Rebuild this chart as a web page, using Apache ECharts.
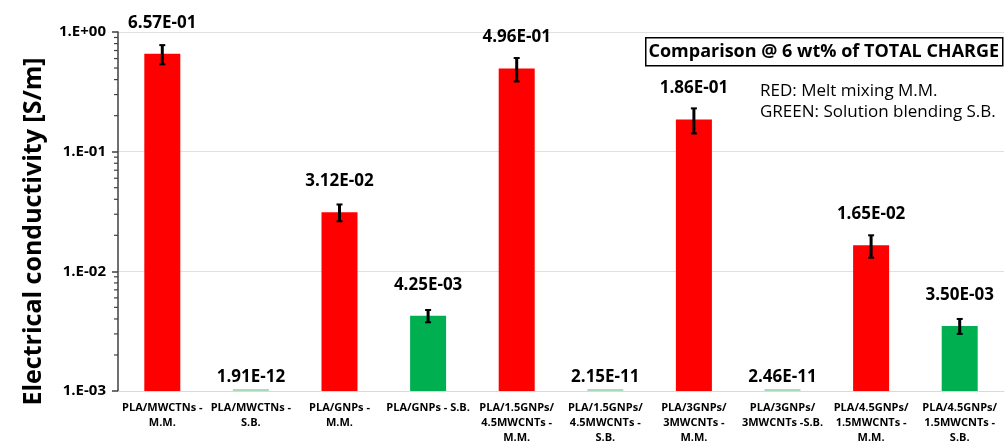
<!DOCTYPE html>
<html>
<head>
<meta charset="utf-8">
<script src="https://cdn.jsdelivr.net/npm/echarts@6/dist/echarts.min.js"></script>
<style>
  html, body { margin: 0; padding: 0; background: #fff; }
  #chart { width: 1005px; height: 445px; }
</style>
</head>
<body>
<div id="chart"></div>
<script>
// Sample names (multi-line axis labels)
const categories = [
  'PLA/MWCTNs -\nM.M.',
  'PLA/MWCTNs -\nS.B.',
  'PLA/GNPs -\nM.M.',
  'PLA/GNPs - S.B.',
  'PLA/1.5GNPs/\n4.5MWCNTs -\nM.M.',
  'PLA/1.5GNPs/\n4.5MWCNTs -\nS.B.',
  'PLA/3GNPs/\n3MWCNTs -\nM.M.',
  'PLA/3GNPs/\n3MWCNTs -S.B.',
  'PLA/4.5GNPs/\n1.5MWCNTs -\nM.M.',
  'PLA/4.5GNPs/\n1.5MWCNTs -\nS.B.'
];
// Electrical conductivity [S/m]
const conductivity = [6.57e-1, 1.91e-12, 3.12e-2, 4.25e-3, 4.96e-1, 2.15e-11, 1.86e-1, 2.46e-11, 1.65e-2, 3.50e-3];
// Standard deviation of each measurement
const errors = [0.12, 0, 0.005, 0.0005, 0.11, 0, 0.044, 0, 0.0035, 0.0005];
// Processing route: M = melt mixing, S = solution blending
const method = ['M', 'S', 'M', 'S', 'M', 'S', 'M', 'S', 'M', 'S'];
const yTickValues = [1e-3, 1e-2, 1e-1, 1e0];
const yTickLabels = ['1.E-03', '1.E-02', '1.E-01', '1.E+00'];

const RED = '#ff0000';
const GREEN = '#00b050';
const PALE_GREEN = '#a8dcb9';
const Y_MIN = 1e-3, Y_MAX = 1;
const BAR_W = 36;

function sci(v) {
  const e = Math.floor(Math.log10(v) + 1e-9);
  const m = v / Math.pow(10, e);
  const ae = Math.abs(e);
  return m.toFixed(2) + 'E' + (e < 0 ? '-' : '+') + (ae < 10 ? '0' + ae : '' + ae);
}

const chart = echarts.init(document.getElementById('chart'));

// [category index, value, error, method flag]
const barData = conductivity.map((v, i) => [i, v, errors[i], method[i] === 'M' ? 1 : 0]);

// minor log ticks along the y axis (2..9 within each decade)
const minorTicks = [];
for (let d = -3; d < 0; d++) {
  for (let k = 2; k <= 9; k++) minorTicks.push([0, k * Math.pow(10, d)]);
}

const labelStyle = {
  fill: '#000', align: 'center', verticalAlign: 'middle',
  fontFamily: 'Open Sans', fontWeight: 'bold', fontSize: 17
};

const option = {
  animation: false,
  grid: { left: 118, right: 1, top: 32, bottom: 52, containLabel: false },
  xAxis: {
    type: 'category',
    data: categories,
    axisLine: { show: true, lineStyle: { color: '#d9d9d9', width: 1 } },
    axisTick: { show: false },
    axisLabel: {
      interval: 0,
      color: '#000',
      fontFamily: 'Open Sans',
      fontWeight: 'bold',
      fontSize: 11,
      lineHeight: 15,
      margin: 9,
      verticalAlign: 'top'
    }
  },
  yAxis: {
    type: 'log',
    logBase: 10,
    min: Y_MIN,
    max: Y_MAX,
    name: 'Electrical conductivity [S/m]',
    nameLocation: 'middle',
    nameGap: 72,
    nameTextStyle: {
      fontFamily: 'Open Sans',
      fontWeight: 'bold',
      fontSize: 25,
      color: '#000',
      padding: [0, 40, 0, 0]
    },
    axisLine: { show: true, lineStyle: { color: '#404040', width: 1.5 } },
    axisTick: { show: true, length: 6, inside: false, lineStyle: { color: '#404040', width: 1.5 } },
    axisLabel: {
      color: '#000',
      fontFamily: 'Open Sans',
      fontWeight: 'bold',
      fontSize: 15,
      margin: 12,
      formatter: function (v) {
        const idx = yTickValues.findIndex(t => Math.abs(Math.log10(t) - Math.log10(v)) < 1e-6);
        return idx >= 0 ? yTickLabels[idx] : '';
      }
    },
    splitLine: { show: true, lineStyle: { color: '#e0e0e0', width: 1 } }
  },
  series: [
    {
      // bars rising from the bottom of the log axis, with error bars and value labels
      type: 'custom',
      data: barData,
      z: 5,
      clip: false,
      renderItem: function (params, api) {
        const i = api.value(0);
        const v = api.value(1);
        const err = api.value(2);
        const color = api.value(3) === 1 ? RED : GREEN;
        const children = [];
        const base = api.coord([i, Y_MIN]);
        if (v < Y_MIN) {
          // value below the axis range: thin marker at the baseline
          children.push({
            type: 'rect',
            shape: { x: base[0] - BAR_W / 2, y: base[1] - 2, width: BAR_W, height: 2 },
            style: { fill: PALE_GREEN }
          });
          children.push({
            type: 'text', x: base[0], y: base[1] - 14,
            style: Object.assign({ text: sci(v) }, labelStyle)
          });
        } else {
          const top = api.coord([i, v]);
          children.push({
            type: 'rect',
            shape: { x: top[0] - BAR_W / 2, y: top[1], width: BAR_W, height: base[1] - top[1] },
            style: { fill: color }
          });
          if (err > 0) {
            const hi = api.coord([i, v + err]);
            const lo = api.coord([i, Math.max(v - err, Y_MIN)]);
            const x = top[0];
            children.push({
              type: 'line', shape: { x1: x, y1: hi[1], x2: x, y2: lo[1] },
              style: { stroke: '#000', lineWidth: 3 }
            });
            children.push({
              type: 'line', shape: { x1: x - 3, y1: hi[1], x2: x + 3, y2: hi[1] },
              style: { stroke: '#000', lineWidth: 2 }
            });
            children.push({
              type: 'line', shape: { x1: x - 3, y1: lo[1], x2: x + 3, y2: lo[1] },
              style: { stroke: '#000', lineWidth: 2 }
            });
          }
          children.push({
            type: 'text', x: top[0], y: top[1] - 31,
            style: Object.assign({ text: sci(v) }, labelStyle)
          });
        }
        return { type: 'group', children: children };
      }
    },
    {
      type: 'custom',
      data: minorTicks,
      z: 6,
      clip: false,
      silent: true,
      renderItem: function (params, api) {
        const p = api.coord([0, api.value(1)]);
        const left = params.coordSys.x;
        return {
          type: 'line',
          shape: { x1: left - 4, y1: p[1], x2: left, y2: p[1] },
          style: { stroke: '#404040', lineWidth: 1.2 }
        };
      }
    }
  ],
  graphic: [
    {
      type: 'group',
      left: 645,
      top: 37,
      z: 10,
      children: [
        {
          type: 'rect',
          shape: { x: 0, y: 0, width: 357, height: 28 },
          style: { fill: '#fff', stroke: '#000', lineWidth: 1.5 }
        },
        {
          type: 'text',
          x: 178, y: 14,
          style: {
            text: 'Comparison @ 6 wt% of TOTAL CHARGE',
            fill: '#000', align: 'center', verticalAlign: 'middle',
            fontFamily: 'Open Sans', fontWeight: 'bold', fontSize: 18
          }
        }
      ]
    },
    {
      type: 'text',
      left: 760,
      top: 81,
      z: 10,
      style: {
        text: 'RED: Melt mixing M.M.\nGREEN: Solution blending S.B.',
        fill: '#000', fontFamily: 'Open Sans', fontSize: 17, lineHeight: 21
      }
    }
  ]
};

chart.setOption(option);
</script>
</body>
</html>
